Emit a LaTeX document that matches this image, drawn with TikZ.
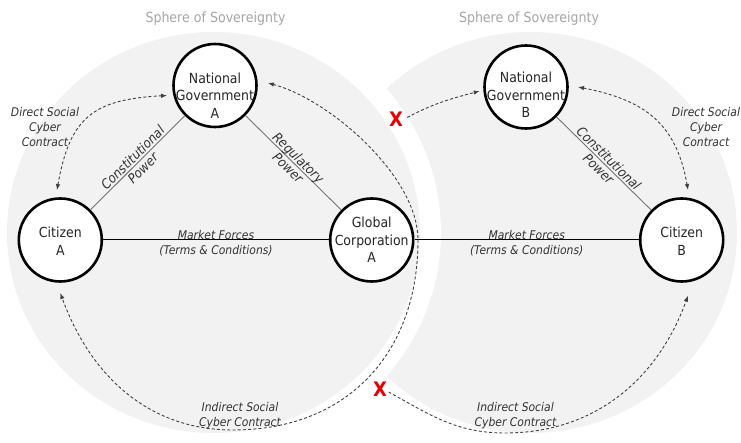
\documentclass[tikz,border=0pt]{standalone}
\usepackage{fontspec}
\setmainfont{DejaVu Sans}[FakeStretch=0.9]
\usetikzlibrary{arrows.meta}
\definecolor{spheregray}{RGB}{242,242,242}
\definecolor{titlegray}{RGB}{165,165,165}
\definecolor{xred}{RGB}{235,0,0}
\begin{document}
\begin{tikzpicture}[x=1pt, y=1pt,
  >={Latex[length=6pt,width=4.5pt]},
  nodecircle/.style={circle, draw=black, line width=2.6pt, fill=white, minimum size=83pt, inner sep=0pt},
  nodetext/.style={align=center, inner sep=0pt, text=black!85, font=\fontsize{13.9}{17.5}\selectfont},
  lbl/.style={align=center, inner sep=0pt, text=black!80, font=\fontsize{12}{15}\selectfont\itshape},
  plbl/.style={align=center, inner sep=0pt, text=black!80, font=\fontsize{13.3}{14.5}\selectfont\itshape},
  powerline/.style={draw=black!55, line width=0.9pt},
  marketline/.style={draw=black, line width=1pt},
  contract/.style={draw=black!75, line width=0.9pt, dash pattern=on 3pt off 2.2pt},
  xmark/.style={text=xred, inner sep=0.5pt, font=\fontsize{20}{20}\selectfont\bfseries},
  sphtitle/.style={text=titlegray, font=\fontsize{14}{16}\selectfont}
]
\useasboundingbox (0,0) rectangle (741,443);

% spheres
\fill[spheregray] (530.5,210.5) ellipse [x radius=206.5pt, y radius=200.5pt];
\fill[white] (213.5,210.5) ellipse [x radius=227.5pt, y radius=221.5pt];
\fill[spheregray] (213.5,210.5) ellipse [x radius=206.5pt, y radius=200.5pt];

\node[sphtitle] (titleA) at (215.5,424.5) {Sphere of Sovereignty};
\node[sphtitle] (titleB) at (529,424.5) {Sphere of Sovereignty};

% actors
\node[nodecircle] (ngA) at (215,357.5) {};
\node[nodecircle] (citA) at (60.3,203) {};
\node[nodecircle] (globA) at (371.7,203) {};
\node[nodecircle] (ngB) at (526,356) {};
\node[nodecircle] (citB) at (681.7,203) {};

\node[nodetext] (tNgA) at ([yshift=-10pt]ngA.center) {National\\Government\\A};
\node[nodetext] (tCitA) at ([yshift=-1pt]citA.center) {Citizen\\A};
\node[nodetext] (tGlobA) at (globA.center) {Global\\Corporation\\A};
\node[nodetext] (tNgB) at ([yshift=-8pt]ngB.center) {National\\Government\\B};
\node[nodetext] (tCitB) at ([yshift=-1pt]citB.center) {Citizen\\B};

% power relations
\draw[powerline] (citA) -- node[plbl, sloped] {Constitutional\\Power} (ngA);
\draw[powerline] (ngA) -- node[plbl, sloped] {Regulatory\\Power} (globA);
\draw[powerline] (ngB) -- node[plbl, sloped] {Constitutional\\Power} (citB);

% market forces
\draw[marketline] (citA) -- node[lbl, yshift=-3.5pt] {Market Forces\\(Terms \& Conditions)} (globA);
\draw[marketline] (globA) -- node[lbl, yshift=-3.5pt] {Market Forces\\(Terms \& Conditions)} (citB);

% blocked marks
\node[xmark] (xTop) at (396,324) {X};
\node[xmark] (xBot) at (380,54) {X};

% contracts
\draw[contract, <->] ([shift={(93.8:50)}]citA.center) to[out=80, in=183, looseness=1.3] ([shift={(191.8:49)}]ngA.center);
\draw[contract, <->] ([shift={(0:52)}]ngB.center) to[out=-11, in=100, looseness=1.15] ([shift={(82.8:50.4)}]citB.center);

\coordinate (arcR) at (418,203);
\coordinate (arcB) at (233,13);
\draw[contract, <->] ([shift={(2.7:53)}]ngA.center) to[out=-15, in=90, looseness=0.75] (arcR)
  to[out=-90, in=0, looseness=1.1] (arcB) to[out=180, in=-70] ([shift={(-90:53)}]citA.center);

\draw[contract, ->] ([shift={(3.5,1.5)}]xTop.east) to[out=28, in=195] ([shift={(185:46.5)}]ngB.center);

\coordinate (arcB2) at (505,10);
\draw[contract, ->] ([shift={(1,-3)}]xBot.east) to[out=-29, in=180] (arcB2)
  to[out=0, in=-110] ([shift={(-83.5:56)}]citB.center);

% contract labels
\node[lbl] (dA) at (45,316) {Direct Social\\Cyber\\Contract};
\node[lbl] (dB) at (706,316) {Direct Social\\Cyber\\Contract};
\node[lbl] (iA) at (240,27) {Indirect Social\\Cyber Contract};
\node[lbl] (iB) at (515.5,27) {Indirect Social\\Cyber Contract};
\end{tikzpicture}
\end{document}
